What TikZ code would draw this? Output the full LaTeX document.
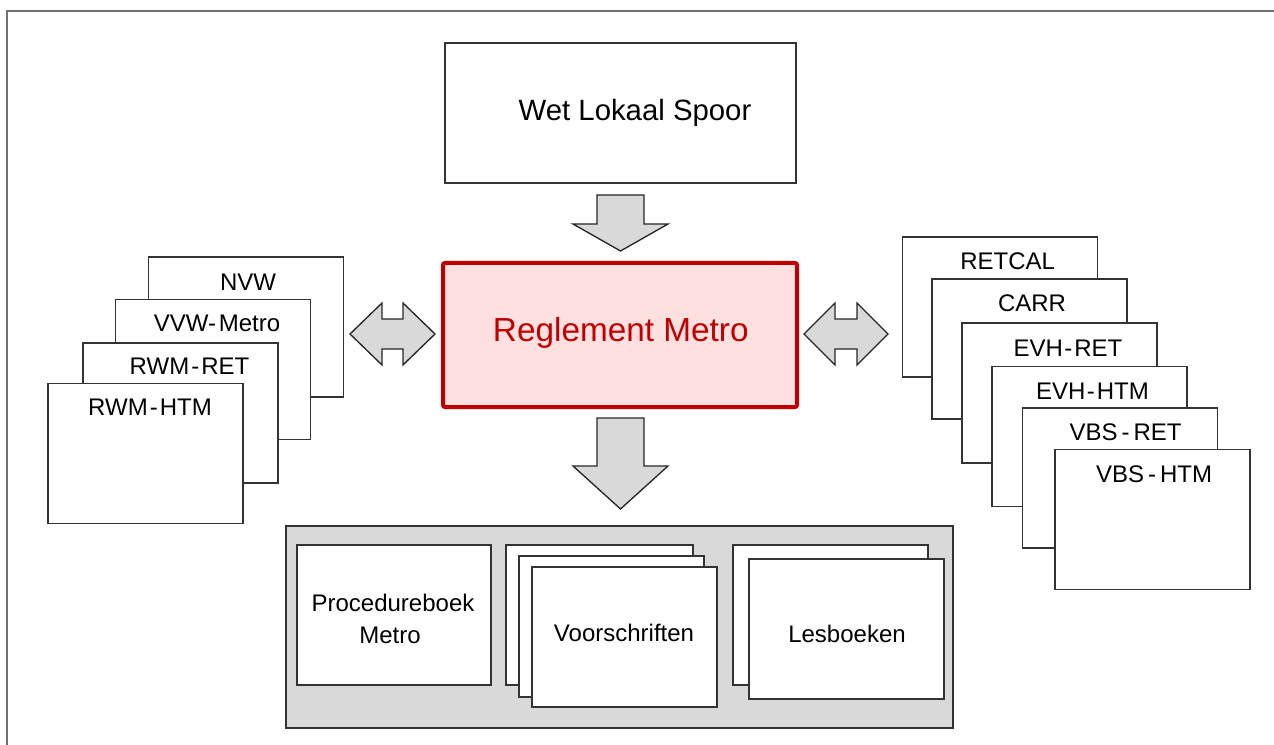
\documentclass[tikz,border=0pt]{standalone}
\usepackage{fontspec}
\setmainfont{Liberation Sans}
\definecolor{redline}{HTML}{C00000}
\definecolor{redfill}{HTML}{FFE0E0}
\definecolor{arrowfill}{HTML}{D9D9D9}
\definecolor{framegray}{HTML}{707070}
\definecolor{groupfill}{HTML}{D9D9D9}
\begin{document}
\begin{tikzpicture}[x=0.75pt,y=-0.75pt,
  sz/.style 2 args={minimum width=#1*0.75pt, minimum height=#2*0.75pt, inner sep=0pt, outer sep=0pt},
  docbox/.style={draw=black!80, line width=0.9pt, fill=white},
  lbl/.style={anchor=base, font=\fontsize{18pt}{21pt}\selectfont, inner sep=0pt},
  blockarrow/.style={draw=black!85, line width=1pt, fill=arrowfill, line join=miter},
  framestyle/.style={draw=framegray, line width=1.5pt}
]
\useasboundingbox (0,0) rectangle (1274,745);
% frame
\draw[framestyle] (6.5,745) -- (6.5,11) -- (1274,11);

% top box
\node[docbox, sz={351}{140}] (wls) at (620.5,113) {};
\node[anchor=base, inner sep=0pt, font=\fontsize{22pt}{26pt}\selectfont] (wlsL) at (635,120.7) {Wet Lokaal Spoor};

% block arrows
\draw[blockarrow] (597,195) -- (644,195) -- (644,224) -- (668,224) -- (620.5,251) -- (573,224) -- (597,224) -- cycle;
\draw[blockarrow] (597,418) -- (644,418) -- (644,466) -- (668,466) -- (620.5,509) -- (573,466) -- (597,466) -- cycle;
\draw[blockarrow] (350,334) -- (382,303) -- (382,319) -- (403,319) -- (403,303) -- (435,334) -- (403,365) -- (403,349) -- (382,349) -- (382,365) -- cycle;
\draw[blockarrow] (804,334) -- (835,303) -- (835,319) -- (857,319) -- (857,303) -- (888,334) -- (857,365) -- (857,349) -- (835,349) -- (835,365) -- cycle;

% central box
\node[draw=redline, fill=redfill, line width=3pt, rounded corners=1.5pt, sz={354}{144}] (rm) at (620,335) {};
\node[anchor=base, inner sep=0pt, text=redline, font=\fontsize{25pt}{30pt}\selectfont] (rmL) at (620.8,341.7) {Reglement Metro};

% left stack
\node[docbox, sz={195}{140}] (nvw) at (246,327) {};
\node[lbl] (nvwL) at (248,290.6) {NVW};
\node[docbox, sz={195}{140}] (vvw) at (213,369.5) {};
\node[lbl] (vvwL) at (217,331.7) {VVW-\kern2pt Metro};
\node[docbox, sz={195}{140}] (rwmret) at (180.5,413) {};
\node[lbl] (rwmretL) at (189.5,374.6) {RWM\kern1.5pt-\kern1.5pt RET};
\node[docbox, sz={195}{140}] (rwmhtm) at (145.5,453.5) {};
\node[lbl] (rwmhtmL) at (150,415.6) {RWM\kern1.5pt-\kern1.5pt HTM};

% right stack
\node[docbox, sz={195}{140}] (retcal) at (1000,307) {};
\node[lbl] (retcalL) at (1007.7,269.3) {RETCAL};
\node[docbox, sz={195}{140}] (carr) at (1029.5,349) {};
\node[lbl] (carrL) at (1032,311.7) {CARR};
\node[docbox, sz={195}{140}] (evhret) at (1059.5,393) {};
\node[lbl] (evhretL) at (1068,356) {EVH\kern1pt-\kern1.5pt RET};
\node[docbox, sz={195}{140}] (evhhtm) at (1089.5,436.5) {};
\node[lbl] (evhhtmL) at (1092.5,399.3) {EVH\kern1pt-\kern1.5pt HTM};
\node[docbox, sz={195}{140}] (vbsret) at (1120,478) {};
\node[lbl] (vbsretL) at (1125.5,440.7) {VBS\kern3pt-\kern3pt RET};
\node[docbox, sz={195}{140}] (vbshtm) at (1152.5,519.5) {};
\node[lbl] (vbshtmL) at (1154,482.3) {VBS\kern3pt-\kern3pt HTM};

% bottom group
\node[draw=black!80, line width=0.9pt, fill=groupfill, sz={667}{202}] (grp) at (619.5,627) {};
\node[docbox, sz={194}{140}] (proc) at (394,615) {};
\node[lbl] (procL1) at (393,611.7) {Procedureboek};
\node[lbl] (procL2) at (390,643.3) {Metro};
\node[docbox, sz={187}{140}] (voor1) at (599.5,615) {};
\node[docbox, sz={185}{141}] (voor2) at (611.5,626.5) {};
\node[docbox, sz={185}{140}] (voor3) at (624.5,637) {};
\node[lbl] (voorL) at (624,641.7) {Voorschriften};
\node[docbox, sz={195}{140}] (les1) at (830.5,615) {};
\node[docbox, sz={195}{140}] (les2) at (846.5,629) {};
\node[lbl] (lesL) at (847,642.3) {Lesboeken};
\end{tikzpicture}
\end{document}
